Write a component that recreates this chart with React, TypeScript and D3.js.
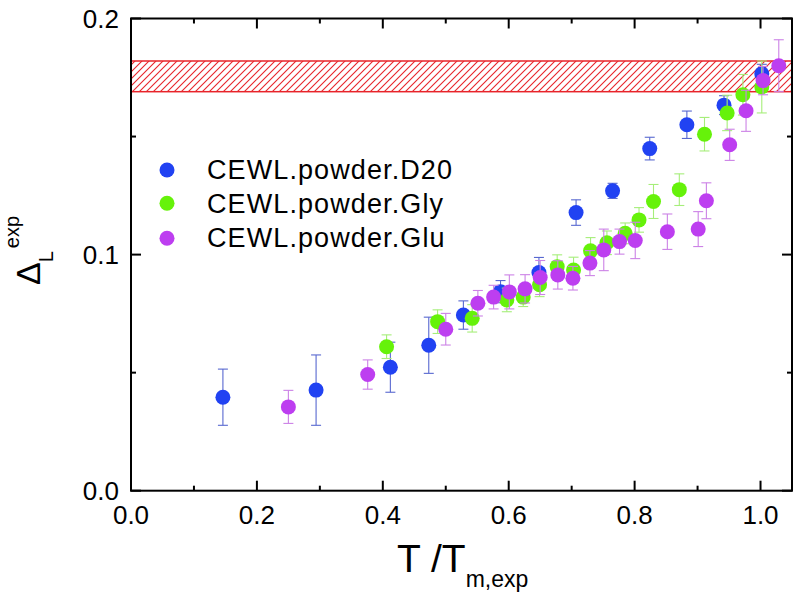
import React from "react";
import * as d3 from "d3";

const W = 796;
const H = 594;

// Series: [x, y, err]
const d20X = [0.146, 0.294, 0.412, 0.473, 0.528, 0.587, 0.648, 0.707, 0.765, 0.824, 0.883, 0.942, 1.002];
const d20Y = [0.0396, 0.0426, 0.0523, 0.0616, 0.0744, 0.0843, 0.0924, 0.1178, 0.127, 0.1449, 0.155, 0.1633, 0.1766];
const d20E = [0.0119, 0.0149, 0.0106, 0.0119, 0.006, 0.0047, 0.0064, 0.0054, 0.0032, 0.0048, 0.0058, 0.004, 0.004];

const glyX = [0.406, 0.487, 0.542, 0.597, 0.623, 0.649, 0.677, 0.703, 0.730, 0.756, 0.785, 0.807, 0.830, 0.871, 0.911, 0.947, 0.972, 1.002];
const glyY = [0.061, 0.0716, 0.073, 0.0808, 0.082, 0.0872, 0.0949, 0.0935, 0.1016, 0.105, 0.109, 0.1147, 0.1225, 0.1275, 0.151, 0.16, 0.1677, 0.171];
const glyE = [0.005, 0.005, 0.0058, 0.005, 0.004, 0.005, 0.005, 0.0054, 0.0056, 0.005, 0.0044, 0.0052, 0.0072, 0.0067, 0.0071, 0.0075, 0.0086, 0.011];

const gluX = [0.25, 0.376, 0.5, 0.551, 0.576, 0.601, 0.626, 0.65, 0.678, 0.702, 0.729, 0.751, 0.776, 0.801, 0.852, 0.901, 0.914, 0.951, 0.977, 1.004, 1.029];
const gluY = [0.0355, 0.0492, 0.0684, 0.0794, 0.082, 0.0842, 0.0855, 0.0903, 0.0914, 0.09, 0.0964, 0.102, 0.1055, 0.106, 0.1097, 0.1108, 0.1228, 0.1465, 0.1609, 0.1737, 0.18];
const gluE = [0.007, 0.0062, 0.0067, 0.0054, 0.005, 0.0072, 0.006, 0.0072, 0.006, 0.005, 0.0053, 0.0088, 0.0053, 0.0077, 0.0075, 0.0074, 0.0076, 0.0066, 0.0087, 0.006, 0.011];

const seriesNames = ["CEWL.powder.D20", "CEWL.powder.Gly", "CEWL.powder.Glu"];
const seriesColors = ["#2142f2", "#66f20a", "#bd3ef0"];
const errColors = ["#5868d0", "#a6ee7a", "#cc82e6"];

const bandLow = 0.169;
const bandHigh = 0.182;

const xTicks = [0.0, 0.2, 0.4, 0.6, 0.8, 1.0];
const yTicks = [0.0, 0.1, 0.2];

const FONT = "Arial, 'Liberation Sans', Helvetica, sans-serif";

export default function App() {
  const left = 131, right = 792, top = 18.5, bottom = 490.7;
  const x = d3.scaleLinear().domain([0, 1.05]).range([left, right]);
  const y = d3.scaleLinear().domain([0, 0.2]).range([bottom, top]);

  const series = [
    { xs: d20X, ys: d20Y, es: d20E },
    { xs: glyX, ys: glyY, es: glyE },
    { xs: gluX, ys: gluY, es: gluE },
  ];

  const xMinor = d3.range(0.1, 1.05, 0.2);
  const yMinor = [0.05, 0.15];
  const r = 7.5;
  const cap = 5;

  return (
    <svg width={W} height={H} style={{ position: "absolute", left: 0, top: 0, background: "#fff" }} fontFamily={FONT}>
      <defs>
        <pattern id="hatch" patternUnits="userSpaceOnUse" width="7" height="7">
          <rect width="7" height="7" fill="#fff" />
          <path d="M-1,8 L8,-1 M-2,2 L2,-2 M5,9 L9,5" stroke="#e8242a" strokeWidth="1.1" />
        </pattern>
      </defs>

      {/* band */}
      <rect x={left} y={y(bandHigh)} width={right - left} height={y(bandLow) - y(bandHigh)} fill="url(#hatch)" stroke="#e8242a" strokeWidth={1.5} />

      {/* data */}
      {series.map((s, si) => (
        <g key={si}>
          {s.xs.map((xv, i) => {
            const cx = x(xv);
            const y1 = y(s.ys[i] + s.es[i]);
            const y2 = y(s.ys[i] - s.es[i]);
            return (
              <g key={i} stroke={errColors[si]} strokeWidth={1.1}>
                <line x1={cx} x2={cx} y1={y1} y2={y2} />
                <line x1={cx - cap} x2={cx + cap} y1={y1} y2={y1} />
                <line x1={cx - cap} x2={cx + cap} y1={y2} y2={y2} />
              </g>
            );
          })}
          {s.xs.map((xv, i) => (
            <circle key={"c" + i} cx={x(xv)} cy={y(s.ys[i])} r={r} fill={seriesColors[si]} />
          ))}
        </g>
      ))}

      {/* axes frame */}
      <rect x={left} y={top} width={right - left} height={bottom - top} fill="none" stroke="#000" strokeWidth={2} />

      {/* x ticks */}
      {xTicks.map((t) => (
        <g key={"xt" + t}>
          <line x1={x(t)} x2={x(t)} y1={bottom} y2={bottom - 10} stroke="#000" strokeWidth={2} />
          <line x1={x(t)} x2={x(t)} y1={top} y2={top + 10} stroke="#000" strokeWidth={2} />
          <text x={x(t)} y={524} textAnchor="middle" fontSize={26}>{t.toFixed(1)}</text>
        </g>
      ))}
      {xMinor.map((t) => (
        <g key={"xm" + t}>
          <line x1={x(t)} x2={x(t)} y1={bottom} y2={bottom - 5} stroke="#000" strokeWidth={2} />
          <line x1={x(t)} x2={x(t)} y1={top} y2={top + 5} stroke="#000" strokeWidth={2} />
        </g>
      ))}

      {/* y ticks */}
      {yTicks.map((t) => (
        <g key={"yt" + t}>
          <line x1={left} x2={left + 10} y1={y(t)} y2={y(t)} stroke="#000" strokeWidth={2} />
          <line x1={right} x2={right - 10} y1={y(t)} y2={y(t)} stroke="#000" strokeWidth={2} />
          <text x={119} y={y(t) + 9.5} textAnchor="end" fontSize={26}>{t.toFixed(1)}</text>
        </g>
      ))}
      {yMinor.map((t) => (
        <g key={"ym" + t}>
          <line x1={left} x2={left + 5} y1={y(t)} y2={y(t)} stroke="#000" strokeWidth={2} />
          <line x1={right} x2={right - 5} y1={y(t)} y2={y(t)} stroke="#000" strokeWidth={2} />
        </g>
      ))}

      {/* legend */}
      {seriesNames.map((n, i) => (
        <g key={n}>
          <circle cx={167} cy={[170, 203.3, 238.3][i]} r={r} fill={seriesColors[i]} />
          <text x={207} y={[179.3, 212.7, 247.3][i]} fontSize={27} letterSpacing={1.1}>{n}</text>
        </g>
      ))}

      {/* x title */}
      <text x={397} y={572} fontSize={39}>
        T /T<tspan fontSize={23} dy={15}>m,exp</tspan>
      </text>

      {/* y title */}
      <text transform="translate(40,285) rotate(-90)" fontSize={34}>
        Δ<tspan fontSize={20} dy={13}>L</tspan>
        <tspan fontSize={20} dy={-34} dx={3}>exp</tspan>
      </text>
    </svg>
  );
}
